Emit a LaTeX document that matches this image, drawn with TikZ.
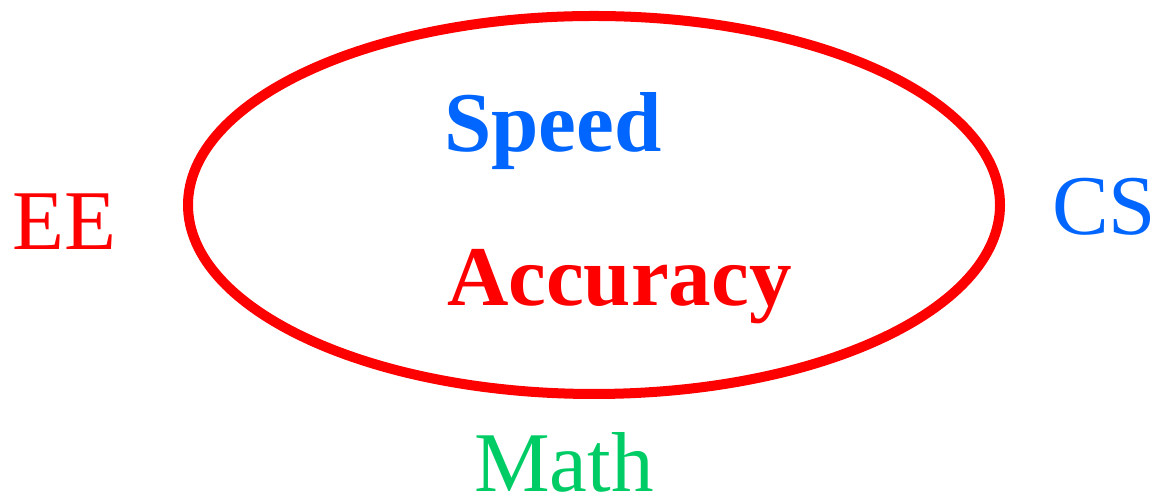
\documentclass[tikz,border=0pt]{standalone}
\usepackage{fontspec}
\setmainfont{Liberation Serif}
\definecolor{myblue}{RGB}{0,102,255}
\definecolor{mygreen}{RGB}{0,204,102}
\definecolor{myred}{RGB}{255,0,0}
\tikzset{
  lbl/.style={inner sep=0pt, outer sep=0pt, anchor=base west, font=\fontsize{24.2}{28}\selectfont},
  ring/.style={draw=myred, line width=0.1cm}
}
\begin{document}
\begin{tikzpicture}
\useasboundingbox (0,0) rectangle (11.55,5.00);
\draw[ring] (5.94,2.95) ellipse [x radius=4.06, y radius=1.89];
\node[lbl, text=myred] (ee) at (0.13,2.50) {EE};
\node[lbl, text=myblue] (cs) at (10.52,2.65) {CS};
\node[lbl, text=myblue, font=\fontsize{24.2}{28}\selectfont\bfseries] (speed) at (4.44,3.48) {Speed};
\node[lbl, text=myred, font=\fontsize{24.2}{28}\selectfont\bfseries] (acc) at (4.47,1.94) {Accuracy};
\node[lbl, text=mygreen, text depth=0pt] (math) at (4.74,0.08) {Math};
\end{tikzpicture}
\end{document}
